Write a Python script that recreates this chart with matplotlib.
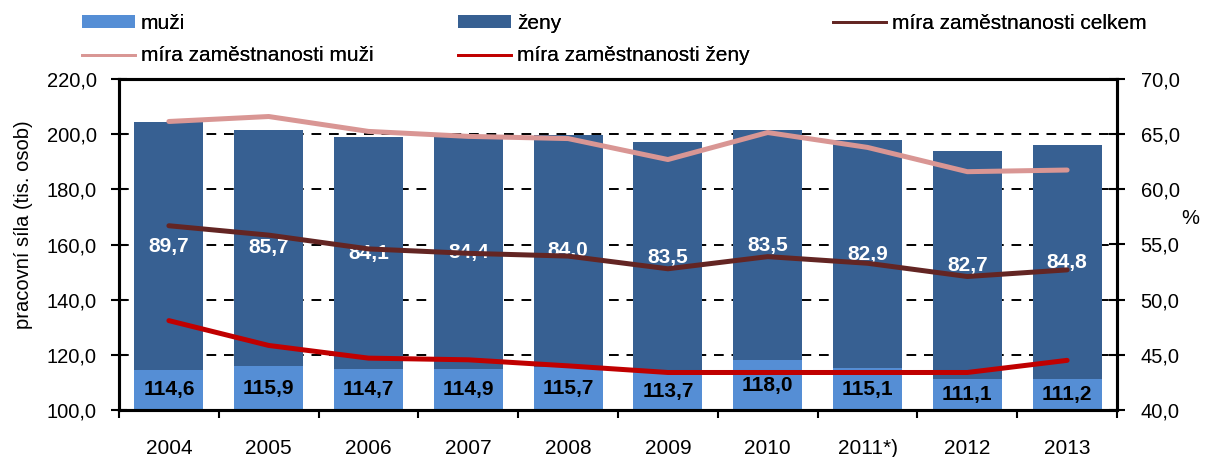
import matplotlib
matplotlib.use("Agg")
import matplotlib.pyplot as plt
import numpy as np
from matplotlib.ticker import FuncFormatter
from matplotlib.patches import Patch
from matplotlib.lines import Line2D

plt.rcParams['font.family'] = ['Liberation Sans', 'DejaVu Sans']

years = ['2004', '2005', '2006', '2007', '2008', '2009', '2010', '2011*)', '2012', '2013']
muzi = [114.6, 115.9, 114.7, 114.9, 115.7, 113.7, 118.0, 115.1, 111.1, 111.2]
zeny = [89.7, 85.7, 84.1, 84.4, 84.0, 83.5, 83.5, 82.9, 82.7, 84.8]
mira_celkem = [56.7, 55.85, 54.6, 54.2, 53.95, 52.8, 53.9, 53.3, 52.1, 52.7]
mira_muzi = [66.15, 66.6, 65.25, 64.8, 64.6, 62.7, 65.15, 63.8, 61.6, 61.75]
mira_zeny = [48.1, 45.85, 44.7, 44.55, 44.0, 43.4, 43.4, 43.4, 43.4, 44.5]

c_muzi = '#558ED5'
c_zeny = '#376092'
c_celkem = '#632523'
c_lmuzi = '#D99694'
c_lzeny = '#C00000'

fs = 14.5
W, H = 1218, 457
fig = plt.figure(figsize=(W / 100, H / 100), dpi=100)
ax = fig.add_axes([119 / W, 1 - 410 / H, (1117 - 119) / W, (410 - 79) / H])

x = np.arange(len(years))
bw = 0.69
ax.bar(x, muzi, bw, color=c_muzi, zorder=2)
ax.bar(x, zeny, bw, bottom=muzi, color=c_zeny, zorder=2)

fmt = FuncFormatter(lambda v, p: f"{v:.1f}".replace('.', ','))
ax.set_xlim(-0.5, len(years) - 0.5)
ax.set_ylim(100, 220)
ax.set_yticks(np.arange(100, 221, 20))
ax.yaxis.set_major_formatter(fmt)
ax.grid(axis='y', color='black', linestyle=(0, (5, 4)), linewidth=1.4, zorder=1)
ax.set_axisbelow(True)

ax.set_xticks(np.arange(-0.5, len(years), 1.0))
ax.set_xticklabels([])
ax.set_xticks(x, minor=True)
ax.set_xticklabels(years, minor=True, fontsize=15)
ax.tick_params(axis='x', which='major', direction='out', length=6, width=1.5)
ax.tick_params(axis='x', which='minor', length=0, pad=21)
ax.tick_params(axis='y', direction='inout', length=12, width=1.5, labelsize=fs, pad=10)

for s in ax.spines.values():
    s.set_linewidth(2.2)
    s.set_color('black')

for i in range(len(years)):
    ax.text(x[i], (100 + muzi[i]) / 2, f"{muzi[i]:.1f}".replace('.', ','),
            ha='center', va='center', fontsize=15, fontweight='bold', color='black', zorder=5)
    ax.text(x[i], muzi[i] + zeny[i] / 2, f"{zeny[i]:.1f}".replace('.', ','),
            ha='center', va='center', fontsize=15, fontweight='bold', color='white', zorder=5)

ax2 = ax.twinx()
ax2.set_ylim(40, 70)
ax2.set_yticks(np.arange(40, 71, 5))
ax2.yaxis.set_major_formatter(fmt)
ax2.tick_params(axis='y', direction='inout', length=12, width=1.5, labelsize=fs, pad=11)
for s in ax2.spines.values():
    s.set_linewidth(2.2)
lw = 3.6
ax2.plot(x, mira_muzi, color=c_lmuzi, lw=lw, solid_capstyle='round', zorder=3)
ax2.plot(x, mira_celkem, color=c_celkem, lw=lw, solid_capstyle='round', zorder=3)
ax2.plot(x, mira_zeny, color=c_lzeny, lw=lw, solid_capstyle='round', zorder=3)

fig.text(24 / W, 1 - 225 / H, 'pracovní síla (tis. osob)', rotation=90,
         ha='center', va='center', fontsize=fs)
fig.text(1190 / W, 1 - 218 / H, '%', ha='center', va='center', fontsize=fs)

lfs = 15
common = dict(loc='upper left', frameon=False, fontsize=lfs, handlelength=2.55,
              handleheight=0.53, handletextpad=0.28, labelspacing=0.64,
              borderpad=0, borderaxespad=0)
cols = [
    ([Patch(facecolor=c_muzi, edgecolor='none'), Line2D([], [], color=c_lmuzi, lw=2)],
     ['muži', 'míra zaměstnanosti muži'], 82),
    ([Patch(facecolor=c_zeny, edgecolor='none'), Line2D([], [], color=c_lzeny, lw=2)],
     ['ženy', 'míra zaměstnanosti ženy'], 458),
    ([Line2D([], [], color=c_celkem, lw=2)], ['míra zaměstnanosti celkem'], 833),
]
for h, l, x0 in cols:
    leg = fig.legend(h, l, bbox_to_anchor=(x0 / W, 1 - 14 / H), **common)
    fig.add_artist(leg)

fig.savefig('out.png', dpi=100)
